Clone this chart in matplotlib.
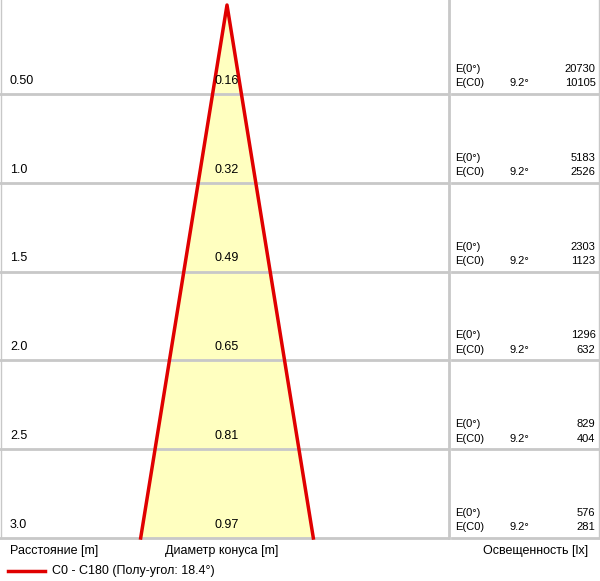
import numpy as np
import matplotlib.pyplot as plt

plt.rcParams['font.family'] = ['Liberation Sans', 'DejaVu Sans']

distances = [0.5, 1.0, 1.5, 2.0, 2.5, 3.0]
dist_labels = ["0.50", "1.0", "1.5", "2.0", "2.5", "3.0"]
diameters = [0.16, 0.32, 0.49, 0.65, 0.81, 0.97]
e_center = [20730, 5183, 2303, 1296, 829, 576]
e_c0 = [10105, 2526, 1123, 632, 404, 281]
half_angle = 9.2

W, H = 600, 581
fig = plt.figure(figsize=(W / 100, H / 100), dpi=100)

def px_axes(x0, y0, x1, y1):
    return fig.add_axes([x0 / W, 1 - y1 / H, (x1 - x0) / W, (y1 - y0) / H])

grey = "#c8c8c8"
ax = px_axes(0, 5, 448, 538)
scale = 178.0
ax.set_xlim(-227 / scale, (448 - 227) / scale)
ax.set_ylim(3.0, 0)
ax.axis("off")

r = diameters[-1] / 2
ax.fill([0, -r, r], [0, 3.0, 3.0], color="#ffffc0", zorder=1)
ax.plot([-r, 0, r], [3.0, 0, 3.0], color="#e00000", lw=2.5, zorder=3, clip_on=False)
for d, lab, dia in zip(distances, dist_labels, diameters):
    ax.axhline(d, color=grey, lw=2, zorder=2, clip_on=False)
    ax.text(-217 / scale, d - 0.04, lab, fontsize=9, va="bottom", ha="left")
    ax.text(0, d - 0.04, f"{dia:.2f}", fontsize=9, va="bottom", ha="center", zorder=4)

ax2 = px_axes(452, 5, 600, 538)
ax2.set_xlim(0, 1)
ax2.set_ylim(3.0, 0)
ax2.axis("off")
for d, e0, e1 in zip(distances, e_center, e_c0):
    ax2.axhline(d, color=grey, lw=2, clip_on=False)
    ax2.text(0.02, d - 0.14, "E(0°)", fontsize=8, va="center")
    ax2.text(0.39, d - 0.06, f"{half_angle}°", fontsize=8, va="center")
    ax2.text(0.02, d - 0.06, "E(C0)", fontsize=8, va="center")
    ax2.text(0.97, d - 0.14, str(e0), fontsize=8, va="center", ha="right")
    ax2.text(0.97, d - 0.06, str(e1), fontsize=8, va="center", ha="right")

# panel borders
fig.add_artist(plt.Line2D([449 / W, 449 / W], [1 - 538 / H, 1], color=grey, lw=2))
fig.add_artist(plt.Line2D([1 / W, 1 / W], [1 - 538 / H, 1], color=grey, lw=1))
fig.add_artist(plt.Line2D([599 / W, 599 / W], [1 - 538 / H, 1], color=grey, lw=1))

fig.text(10 / W, 1 - 551 / H, "Расстояние [m]", fontsize=9, va="center")
fig.text(165 / W, 1 - 551 / H, "Диаметр конуса [m]", fontsize=9, va="center")
fig.text(588 / W, 1 - 551 / H, "Освещенность [lx]", fontsize=9, va="center", ha="right")
fig.add_artist(plt.Line2D([8 / W, 45 / W], [1 - 571 / H] * 2, color="#e00000", lw=2.5))
fig.text(52 / W, 1 - 571 / H, "C0 - C180 (Полу-угол: 18.4°)", fontsize=9, va="center")

fig.savefig("out.png", dpi=100)
